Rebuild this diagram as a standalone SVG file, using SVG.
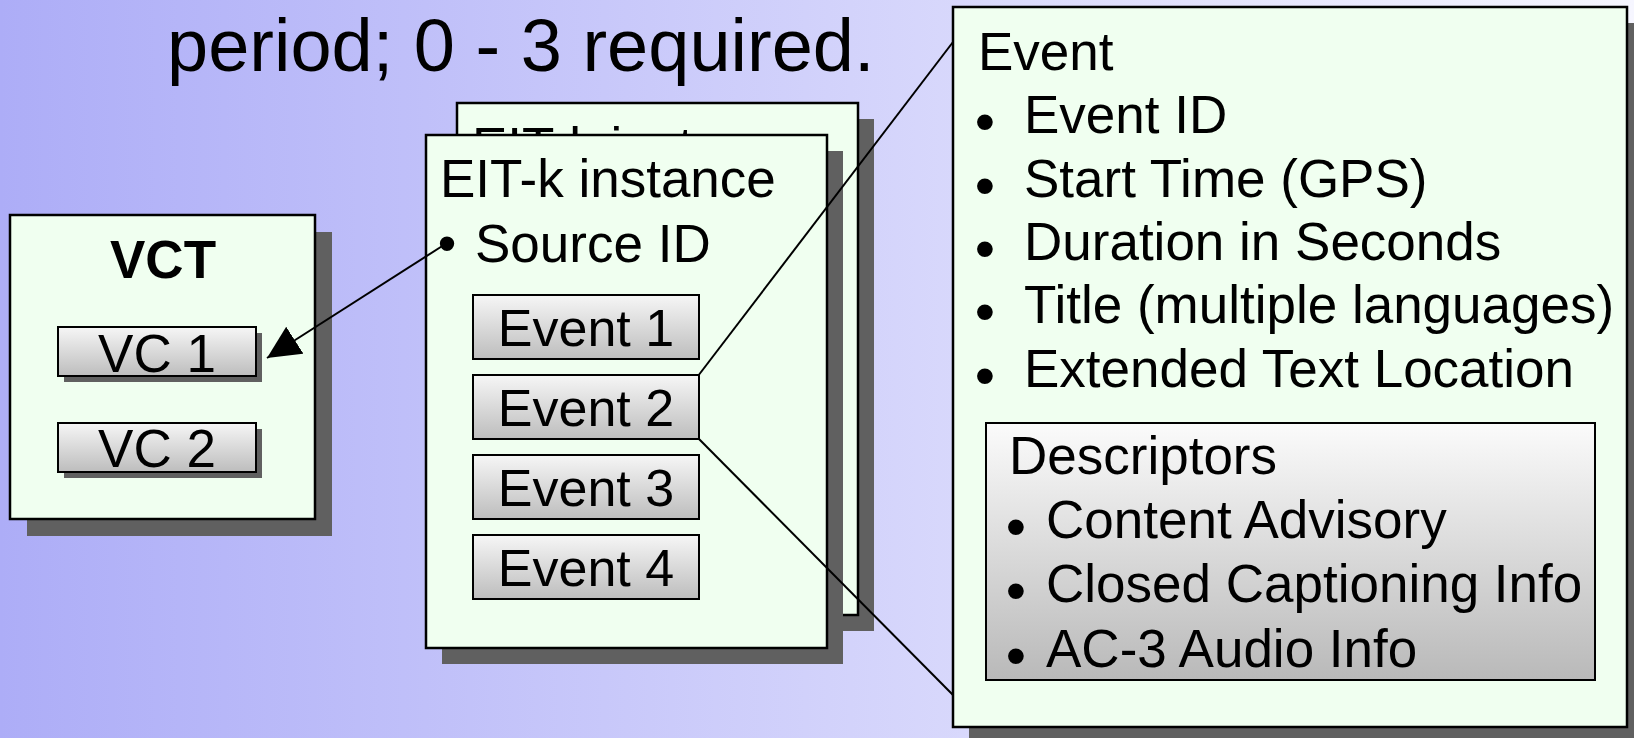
<svg xmlns="http://www.w3.org/2000/svg" width="1634" height="738" viewBox="0 0 1634 738">
<defs>
  <linearGradient id="bg" x1="0" y1="0" x2="1" y2="0">
    <stop offset="0" stop-color="#adadf7"/>
    <stop offset="1" stop-color="#f6f6ff"/>
  </linearGradient>
  <linearGradient id="btn" x1="0" y1="0" x2="0" y2="1">
    <stop offset="0" stop-color="#f6f6f6"/>
    <stop offset="1" stop-color="#bdbdbd"/>
  </linearGradient>
  <linearGradient id="desc" x1="0" y1="0" x2="0" y2="1">
    <stop offset="0" stop-color="#fbfbfb"/>
    <stop offset="1" stop-color="#b9b9b9"/>
  </linearGradient>
  <clipPath id="backclip">
    <rect x="457" y="103" width="401" height="32"/>
  </clipPath>
  <marker id="arrow" markerUnits="userSpaceOnUse" markerWidth="34" markerHeight="34" refX="33" refY="16" orient="auto" viewBox="0 0 34 34">
    <path d="M0,0 L33,16 L0,32 z" fill="#000"/>
  </marker>
  <style>
    text { font-family: "Liberation Sans", Arial, sans-serif; fill: #000; }
    .panel { fill: #f0fff0; stroke: #000; stroke-width: 2.5; }
    .shadow { fill: #606060; }
    .btn { fill: url(#btn); stroke: #000; stroke-width: 2; }
    .t53 { font-size: 53px; }
    .t52 { font-size: 52px; }
    .mid { text-anchor: middle; }
    .bul { font-size: 58px; text-anchor: middle; }
    .conn { stroke: #000; stroke-width: 2; fill: none; }
  </style>
</defs>

<rect x="0" y="0" width="1634" height="738" fill="url(#bg)"/>

<g id="title">
  <text x="167" y="71" font-size="74">period; 0 - 3 required.</text>
</g>

<g id="vct">
  <rect class="shadow" x="27" y="232" width="305" height="304"/>
  <rect class="panel" x="10" y="215" width="305" height="304" stroke-width="2"/>
  <text x="163" y="278" class="t53 mid" font-weight="bold">VCT</text>
</g>
<g id="vc1">
  <rect class="shadow" x="64" y="333" width="198" height="49"/>
  <rect class="btn" x="58" y="327" width="198" height="49"/>
  <text x="157" y="372" class="t53 mid">VC 1</text>
</g>
<g id="vc2">
  <rect class="shadow" x="64" y="429" width="198" height="49"/>
  <rect class="btn" x="58" y="423" width="198" height="49"/>
  <text x="157" y="467" class="t53 mid">VC 2</text>
</g>

<g id="eit-back">
  <rect class="shadow" x="473" y="119" width="401" height="512"/>
  <rect class="panel" x="457" y="103" width="401" height="512" stroke-width="2"/>
  <text x="472" y="165" class="t53" clip-path="url(#backclip)">EIT-k instance</text>
</g>

<g id="eit-front">
  <rect class="shadow" x="442" y="151" width="401" height="513"/>
  <rect class="panel" x="426" y="135" width="401" height="513" stroke-width="2"/>
  <text x="440" y="197" class="t53">EIT-k instance</text>
  <text x="447" y="262" class="t53 mid">•</text>
  <text x="475" y="262" class="t53">Source ID</text>
</g>
<g id="event1">
  <rect class="btn" x="473" y="295" width="226" height="64"/>
  <text x="586" y="346" class="t52 mid">Event 1</text>
</g>
<g id="event2">
  <rect class="btn" x="473" y="375" width="226" height="64"/>
  <text x="586" y="426" class="t52 mid">Event 2</text>
</g>
<g id="event3">
  <rect class="btn" x="473" y="455" width="226" height="64"/>
  <text x="586" y="506" class="t52 mid">Event 3</text>
</g>
<g id="event4">
  <rect class="btn" x="473" y="535" width="226" height="64"/>
  <text x="586" y="586" class="t52 mid">Event 4</text>
</g>

<g id="event-detail">
  <rect class="shadow" x="969" y="23" width="675" height="720"/>
  <rect class="panel" x="953" y="7" width="674" height="720"/>
  <text x="978" y="70" class="t53">Event</text>
  <g>
    <text x="985" y="141" class="bul">•</text><text x="1024" y="133" class="t53">Event ID</text>
    <text x="985" y="205" class="bul">•</text><text x="1024" y="197" class="t53">Start Time (GPS)</text>
    <text x="985" y="268" class="bul">•</text><text x="1024" y="260" class="t53">Duration in Seconds</text>
    <text x="985" y="331" class="bul">•</text><text x="1024" y="323" class="t53">Title (multiple languages)</text>
    <text x="985" y="395" class="bul">•</text><text x="1024" y="387" class="t53">Extended Text Location</text>
  </g>
</g>
<g id="descriptors">
  <rect x="986" y="423" width="609" height="257" fill="url(#desc)" stroke="#000" stroke-width="2"/>
  <text x="1009" y="474" class="t53">Descriptors</text>
  <g>
    <text x="1016" y="546" class="bul">•</text><text x="1046" y="538" class="t53">Content Advisory</text>
    <text x="1016" y="610" class="bul">•</text><text x="1046" y="602" class="t53">Closed Captioning Info</text>
    <text x="1016" y="675" class="bul">•</text><text x="1046" y="667" class="t53">AC-3 Audio Info</text>
  </g>
</g>

<g id="connectors">
  <line class="conn" x1="447" y1="243" x2="267" y2="358" marker-end="url(#arrow)"/>
  <line class="conn" x1="698" y1="376" x2="953" y2="42"/>
  <line class="conn" x1="698" y1="438" x2="953" y2="695"/>
</g>
</svg>
